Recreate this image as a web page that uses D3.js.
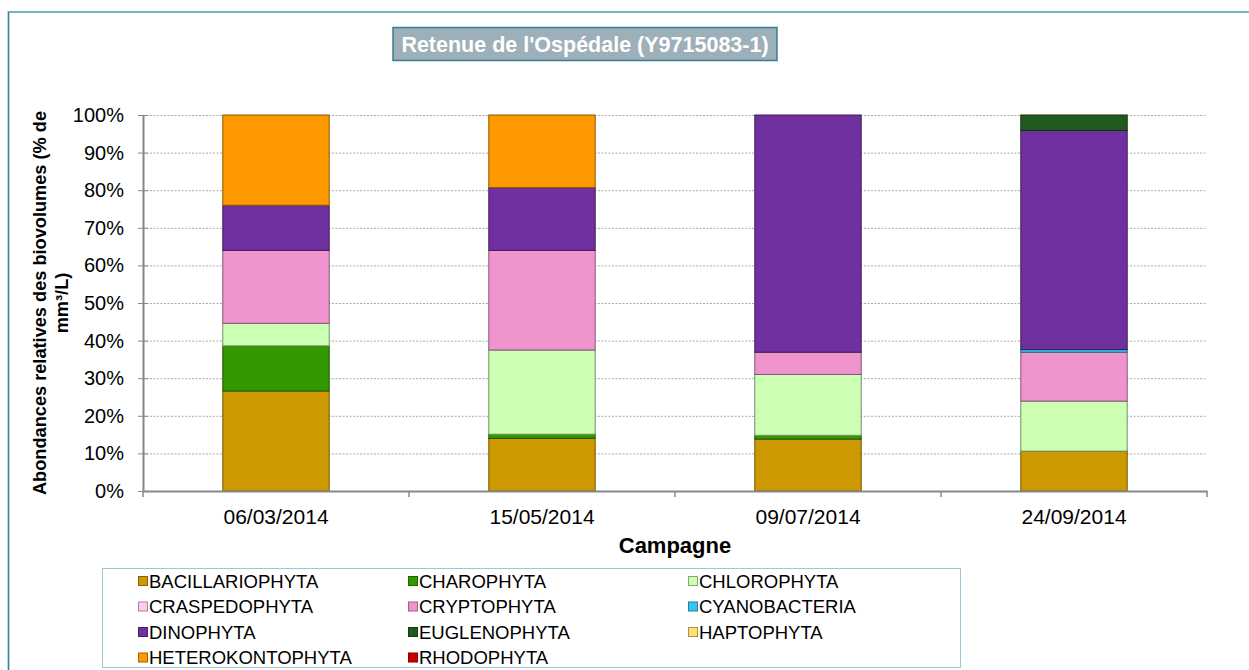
<!DOCTYPE html>
<html lang="fr">
<head>
<meta charset="UTF-8">
<title>Retenue de l'Ospédale</title>
<script src="https://cdn.jsdelivr.net/npm/d3@7"></script>
<style>
	body { margin: 0; background: #fff; }
	svg { font-family: "Liberation Sans", Arial, sans-serif; display: block; }
</style>
</head>
<body>
<svg id="chart" width="1249" height="670"></svg>
<script>
	// donnees (% du biovolume)
	const campagnes = ["06/03/2014", "15/05/2014", "09/07/2014", "24/09/2014"];
	const groupes = ["BACILLARIOPHYTA", "CHAROPHYTA", "CHLOROPHYTA", "CRASPEDOPHYTA", "CRYPTOPHYTA",
		"CYANOBACTERIA", "DINOPHYTA", "EUGLENOPHYTA", "HAPTOPHYTA", "HETEROKONTOPHYTA", "RHODOPHYTA"];
	const couleurs = ["#CC9900", "#339900", "#CCFFB3", "#FFCCF0", "#EF94CD",
		"#33C6F0", "#70309F", "#215A1E", "#FFE070", "#FF9900", "#CC0000"];
	const bacillariophyta  = [26.6, 14.0, 13.8, 10.6];
	const charophyta       = [12.0, 1.1, 1.0, 0];
	const chlorophyta      = [6.0, 22.4, 16.2, 13.3];
	const craspedophyta    = [0, 0, 0, 0];
	const cryptophyta      = [19.4, 26.5, 5.9, 13.0];
	const cyanobacteria    = [0, 0, 0, 0.7];
	const dinophyta        = [12.0, 16.7, 63.1, 58.3];
	const euglenophyta     = [0, 0, 0, 4.1];
	const haptophyta       = [0, 0, 0, 0];
	const heterokontophyta = [24.0, 19.3, 0, 0];
	const rhodophyta       = [0, 0, 0, 0];
	const yTicks = [0, 10, 20, 30, 40, 50, 60, 70, 80, 90, 100];

	const series = [bacillariophyta, charophyta, chlorophyta, craspedophyta, cryptophyta,
		cyanobacteria, dinophyta, euglenophyta, haptophyta, heterokontophyta, rhodophyta];

	// table pour d3.stack
	const table = campagnes.map((c, i) => {
		let row = { campagne: c };
		groupes.forEach((g, j) => { row[g] = series[j][i]; });
		return row;
	});

	const svg = d3.select("#chart");
	const plotL = 143, plotR = 1207, plotT = 115, plotB = 491;
	const police = "Liberation Sans, Arial, sans-serif";

	// cadre exterieur
	svg.append("rect").attr("x", 8.5).attr("y", 12).attr("width", 1300).attr("height", 700)
		.attr("fill", "none").attr("stroke", "#79B3C2").attr("stroke-width", 2);
	svg.append("line").attr("x1", 8.5).attr("x2", 8.5).attr("y1", 12).attr("y2", 670)
		.attr("stroke", "#2E86A6").attr("stroke-width", 1);

	const x = d3.scaleBand().domain(campagnes).range([plotL, plotR])
		.paddingInner(0.6).paddingOuter(0.3);
	const y = d3.scaleLinear().domain([0, 100]).range([plotB, plotT]);
	const color = d3.scaleOrdinal().domain(groupes).range(couleurs);

	// grille pointillee
	svg.append("g").selectAll("line")
		.data(yTicks.filter(t => t > 0))
		.enter().append("line")
		.attr("x1", plotL).attr("x2", plotR)
		.attr("y1", d => y(d) + 0.5).attr("y2", d => y(d) + 0.5)
		.attr("stroke", "#ABABAB").attr("stroke-width", 1)
		.attr("stroke-dasharray", "2,1.5");

	// barres empilees
	const stack = d3.stack().keys(groupes)(table);
	svg.append("g").selectAll("g")
		.data(stack)
		.enter().append("g")
		.attr("fill", d => color(d.key))
		.attr("stroke", d => d3.color(color(d.key)).darker(1.6))
		.selectAll("rect")
		.data(d => d.filter(s => s[1] - s[0] > 0))
		.enter().append("rect")
		.attr("x", d => x(d.data.campagne))
		.attr("width", x.bandwidth())
		.attr("y", d => y(d[1]))
		.attr("height", d => y(d[0]) - y(d[1]))
		.attr("stroke-width", 1);

	// axe Y
	const yAxis = svg.append("g")
		.attr("transform", "translate(" + plotL + ",0)")
		.call(d3.axisLeft(y).tickValues(yTicks).tickFormat(d => d + "%").tickSizeInner(5).tickSizeOuter(0).tickPadding(14));
	yAxis.select(".domain").attr("stroke", "#878787").attr("stroke-width", 2);
	yAxis.selectAll(".tick line").attr("stroke", "#878787").attr("x2", 5).attr("x1", -5);
	yAxis.selectAll("text").attr("font-size", 20).attr("fill", "#000").attr("font-family", police);

	// axe X
	const xAxis = svg.append("g")
		.attr("transform", "translate(0," + plotB + ")")
		.call(d3.axisBottom(x).tickSize(0).tickPadding(18));
	xAxis.select(".domain").attr("stroke", "#878787").attr("stroke-width", 2);
	xAxis.selectAll("text").attr("font-size", 21).attr("fill", "#000").attr("font-family", police);
	// graduations entre les categories
	const sep = campagnes.map(c => x(c) - x.step() * 0.3).concat([plotR]);
	svg.append("g").selectAll("line")
		.data(sep)
		.enter().append("line")
		.attr("x1", d => d).attr("x2", d => d)
		.attr("y1", plotB).attr("y2", plotB + 6)
		.attr("stroke", "#878787").attr("stroke-width", 1.5);

	// titres des axes
	svg.append("text").attr("x", (plotL + plotR) / 2).attr("y", 553)
		.attr("text-anchor", "middle").attr("font-size", 22).attr("font-weight", "bold")
		.text("Campagne");
	const yt = svg.append("text").attr("transform", "translate(46,303) rotate(-90)")
		.attr("text-anchor", "middle").attr("font-size", 18.2).attr("font-weight", "bold");
	yt.append("tspan").attr("x", 0).attr("y", 0).text("Abondances relatives des biovolumes (% de");
	yt.append("tspan").attr("x", 0).attr("y", 22).text("mm³/L)");

	// titre
	svg.append("rect").attr("x", 393).attr("y", 27.5).attr("width", 384).attr("height", 33)
		.attr("fill", "#9DB0BA").attr("stroke", "#3A7D94").attr("stroke-width", 1.5);
	svg.append("text").attr("x", 585).attr("y", 51.5).attr("text-anchor", "middle")
		.attr("font-size", 21.5).attr("font-weight", "bold").attr("fill", "#fff")
		.text("Retenue de l'Ospédale (Y9715083-1)");

	// legende
	svg.append("rect").attr("x", 102.5).attr("y", 568.5).attr("width", 858).attr("height", 99)
		.attr("fill", "#fff").attr("stroke", "#9CC7D6").attr("stroke-width", 1);
	const colX = [138, 408, 688];
	const leg = svg.append("g").selectAll("g")
		.data(groupes)
		.enter().append("g")
		.attr("transform", (d, i) => "translate(" + colX[i % 3] + "," + (581 + Math.floor(i / 3) * 25.5) + ")");
	leg.append("rect").attr("x", 0.5).attr("y", -4.5).attr("width", 9).attr("height", 9)
		.attr("fill", d => color(d)).attr("stroke", d => d3.color(color(d)).darker(1.2)).attr("stroke-width", 1);
	leg.append("text").attr("x", 11).attr("y", 6.5).attr("font-size", 18.5).attr("fill", "#000")
		.text(d => d);
</script>
</body>
</html>
